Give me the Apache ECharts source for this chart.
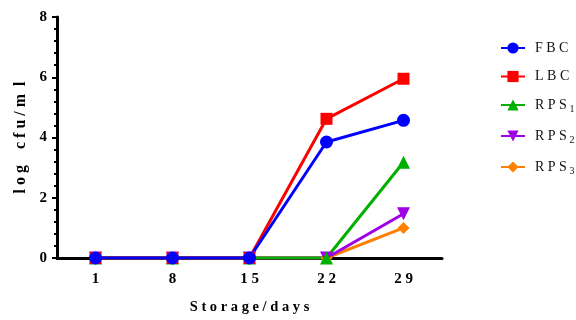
<!DOCTYPE html>
<html>
<head>
<meta charset="utf-8">
<script src="https://cdn.jsdelivr.net/npm/echarts@6/dist/echarts.min.js"></script>
<style>
  html, body { margin: 0; padding: 0; background: #fff; }
  #chart { width: 576px; height: 320px; }
</style>
</head>
<body>
<div id="chart"></div>
<script>
// Storage days on the x axis
const days = ['1', '8', '15', '22', '29'];

// log cfu/ml per sample
const fbc  = [0, 0, 0, 3.85, 4.57];
const lbc  = [0, 0, 0, 4.62, 5.95];
const rps1 = [0, 0, 0, 0, 3.18];
const rps2 = [0, 0, 0, 0, 1.47];
const rps3 = [0, 0, 0, 0, 1.0];

const yTicks = { min: 0, max: 8, interval: 2 };

const serif = 'Liberation Serif';

// letter-spaced text, as typeset in the figure
function spaced(s, sep) {
  return s.split('').join(sep || ' ');
}

function line(name, data, color, symbol, size, rotate) {
  return {
    name: name,
    type: 'line',
    data: data,
    symbol: symbol,
    symbolSize: size,
    symbolRotate: rotate || 0,
    lineStyle: { color: color, width: 3 },
    itemStyle: { color: color },
    animation: false
  };
}

const chart = echarts.init(document.getElementById('chart'), null, { renderer: 'canvas' });
chart.setOption({
  backgroundColor: '#fff',
  grid: { left: 57, right: 134, top: 17, bottom: 58, containLabel: false },
  xAxis: {
    type: 'category',
    data: days,
    boundaryGap: true,
    name: spaced('Storage/days'),
    nameLocation: 'middle',
    nameGap: 42,
    nameTextStyle: { fontFamily: serif, fontWeight: 'bold', fontSize: 14.5, color: '#000' },
    axisLine: { lineStyle: { color: '#000', width: 3 } },
    axisTick: { alignWithLabel: true, length: 4, lineStyle: { color: '#000', width: 2 } },
    axisLabel: {
      fontFamily: serif, fontWeight: 'bold', fontSize: 15, color: '#000', margin: 14,
      formatter: function (v) { return spaced(v); }
    }
  },
  yAxis: {
    type: 'value',
    min: yTicks.min,
    max: yTicks.max,
    interval: yTicks.interval,
    name: 'l o g\u2002\u2002c f u / m\u2002l',
    nameLocation: 'middle',
    nameGap: 28,
    nameRotate: 90,
    nameTextStyle: { fontFamily: serif, fontWeight: 'bold', fontSize: 16, color: '#000' },
    splitLine: { show: false },
    axisLine: { show: true, lineStyle: { color: '#000', width: 3 } },
    axisTick: { show: true, length: 5, lineStyle: { color: '#000', width: 2 } },
    minorTick: { show: true, splitNumber: 5, length: 3, lineStyle: { color: '#000', width: 2 } },
    axisLabel: { fontFamily: serif, fontWeight: 'bold', fontSize: 15, color: '#000', margin: 10 }
  },
  legend: {
    orient: 'vertical',
    left: 495,
    top: 36,
    itemGap: 14.5,
    itemWidth: 24,
    itemHeight: 14,
    data: ['FBC', 'LBC', 'RPS1', 'RPS2', 'RPS3'],
    formatter: function (name) {
      const m = name.match(/^(RPS)(\d)$/);
      return m ? '{t|' + spaced(m[1]) + '}{s| ' + m[2] + '}' : '{t|' + spaced(name) + '}';
    },
    textStyle: {
      rich: {
        t: { fontFamily: serif, fontSize: 14, color: '#111', padding: [0, 0, 0, 5] },
        s: { fontFamily: serif, fontSize: 10, color: '#111', padding: [9, 0, 0, 0] }
      }
    }
  },
  series: [
    line('RPS3', rps3, '#ff8000', 'diamond', 12),
    line('RPS2', rps2, '#a000e6', 'triangle', 13, 180),
    line('RPS1', rps1, '#00b000', 'triangle', 13),
    line('LBC', lbc, '#ff0000', 'rect', 12),
    line('FBC', fbc, '#0000ff', 'circle', 13)
  ]
});
</script>
</body>
</html>
